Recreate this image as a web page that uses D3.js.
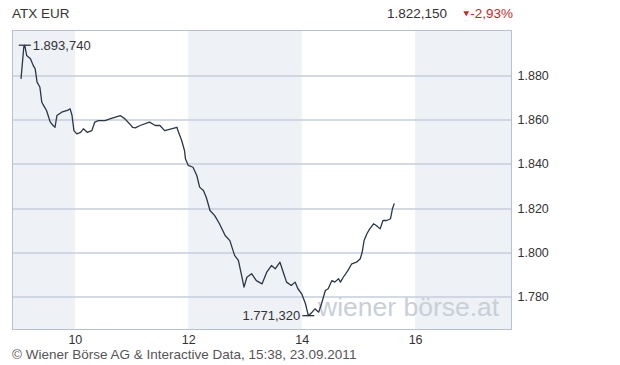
<!DOCTYPE html>
<html>
<head>
<meta charset="utf-8">
<script src="https://cdn.jsdelivr.net/npm/d3@7"></script>
<style>
  body { margin: 0; background: #fff; }
  svg text { font-family: "Liberation Sans", Arial, sans-serif; }
</style>
</head>
<body>
<div id="wrapper"></div>
<script>
// ATX intraday, 23.09.2011
const times = ["09:03","09:06","09:07","09:09","09:13","09:16","09:18","09:20","09:22","09:23",
  "09:25","09:27","09:30","09:34","09:37","09:39","09:41","09:46","09:52","09:55",
  "09:57","09:59","10:02","10:06","10:09","10:13","10:18","10:21","10:25","10:32",
  "10:37","10:48","10:53","10:58","11:01","11:04","11:09","11:19","11:25","11:30",
  "11:35","11:42","11:48","11:49","11:53","11:56","11:57","12:00","12:05","12:09",
  "12:12","12:16","12:19","12:23","12:28","12:33","12:39","12:44","12:49","12:53",
  "12:56","12:59","13:02","13:07","13:12","13:18","13:23","13:28","13:32","13:37",
  "13:41","13:44","13:49","13:53","13:56","14:00","14:04","14:07","14:11","14:14",
  "14:18","14:21","14:25","14:28","14:32","14:35","14:39","14:41","14:44","14:49",
  "14:53","14:58","15:02","15:04","15:06","15:09","15:12","15:16","15:19","15:23",
  "15:26","15:30","15:34","15:36","15:38"];
const prices = [1878.5,1893.1,1893.74,1889.05,1887.6,1884.5,1883.0,1877.0,1875.5,1874.7,
  1867.9,1866.4,1864.2,1858.9,1857.4,1856.6,1861.9,1863.4,1864.2,1864.9,
  1861.9,1855.1,1853.6,1854.3,1855.9,1854.3,1855.1,1858.9,1859.6,1859.6,
  1860.4,1861.9,1860.4,1858.1,1856.6,1856.3,1857.4,1858.9,1857.4,1857.4,
  1855.1,1855.9,1856.6,1855.1,1850.6,1846.1,1842.3,1839.3,1838.5,1834.75,
  1829.5,1828.0,1824.9,1818.9,1816.6,1812.9,1807.6,1805.3,1798.6,1796.3,
  1790.3,1784.2,1788.7,1790.3,1787.2,1785.7,1791.0,1794.0,1792.5,1795.5,
  1790.3,1786.5,1785.0,1786.5,1783.5,1781.2,1776.7,1771.32,1772.9,1774.4,
  1772.9,1776.7,1782.7,1783.5,1787.2,1786.5,1788.0,1786.5,1788.7,1791.8,
  1794.8,1795.5,1797.1,1800.0,1805.3,1808.4,1810.6,1812.9,1812.1,1810.6,
  1814.4,1814.4,1815.2,1819.7,1822.15];

const timeDomain = ["08:54", "17:42"];
const priceDomain = [1765.05, 1900.4];
const xTicks = ["10:00", "12:00", "14:00", "16:00"];
const yTicks = [1780, 1800, 1820, 1840, 1860, 1880];
const shadedHours = [["08:54", "10:00"], ["12:00", "14:00"], ["16:00", "17:42"]];

const title = "ATX EUR";
const lastPrice = "1.822,150";
const change = "-2,93%";
const footer = "© Wiener Börse AG & Interactive Data, 15:38, 23.09.2011";
const watermark = "wiener börse.at";

function draw() {
  const parseTime = d3.timeParse("%H:%M");
  const dataset = times.map((t, i) => ({ time: parseTime(t), price: prices[i] }));
  const xAccessor = d => d.time;
  const yAccessor = d => d.price;

  // german number format: 1.880 / 1.893,740
  const de = d3.formatLocale({ decimal: ",", thousands: ".", grouping: [3], currency: ["", "€"] });
  const fmtTick = de.format(",.0f");
  const fmtPrice = de.format(",.3f");

  const dimensions = {
    width: 620,
    height: 365,
    margin: { top: 30.5, right: 108.5, bottom: 35.5, left: 12.5 },
  };
  dimensions.boundedWidth = dimensions.width - dimensions.margin.left - dimensions.margin.right;
  dimensions.boundedHeight = dimensions.height - dimensions.margin.top - dimensions.margin.bottom;

  const wrapper = d3.select('#wrapper')
    .append('svg')
    .attr('width', dimensions.width)
    .attr('height', dimensions.height);

  const bounds = wrapper.append('g')
    .attr('transform', `translate(${dimensions.margin.left}, ${dimensions.margin.top})`);

  const xScale = d3.scaleTime()
    .domain(timeDomain.map(parseTime))
    .range([0, dimensions.boundedWidth]);

  const yScale = d3.scaleLinear()
    .domain(priceDomain)
    .range([dimensions.boundedHeight, 0]);

  // alternating hour bands
  bounds.selectAll('.band')
    .data(shadedHours)
    .join('rect')
    .attr('class', 'band')
    .attr('x', d => xScale(parseTime(d[0])))
    .attr('width', d => xScale(parseTime(d[1])) - xScale(parseTime(d[0])))
    .attr('y', 0)
    .attr('height', dimensions.boundedHeight)
    .attr('fill', '#eef1f5');

  // grid
  bounds.selectAll('.grid')
    .data(yTicks)
    .join('line')
    .attr('class', 'grid')
    .attr('x1', 0)
    .attr('x2', dimensions.boundedWidth)
    .attr('y1', d => Math.round(yScale(d)) + 0.5)
    .attr('y2', d => Math.round(yScale(d)) + 0.5)
    .attr('stroke', '#c6cedb')
    .attr('stroke-width', 1.5);

  // watermark, bottom right of the plot
  bounds.append('text')
    .attr('x', xScale(parseTime("17:29")))
    .attr('y', yScale(1771.3))
    .attr('text-anchor', 'end')
    .attr('font-size', 26.5)
    .attr('fill', '#c9cfd8')
    .text(watermark);

  const lineGenerator = d3.line()
    .x(d => xScale(xAccessor(d)))
    .y(d => yScale(yAccessor(d)));

  bounds.append('path')
    .attr('d', lineGenerator(dataset))
    .attr('fill', 'none')
    .attr('stroke', '#2b3748')
    .attr('stroke-width', 1.3)
    .attr('stroke-linejoin', 'round');

  // max / min markers
  const maxPoint = dataset[d3.maxIndex(dataset, yAccessor)];
  const minPoint = dataset[d3.minIndex(dataset, yAccessor)];
  const markers = [
    { d: maxPoint, anchor: 'start', dx: 8 },
    { d: minPoint, anchor: 'end', dx: -8 },
  ];
  markers.forEach(m => {
    const mx = xScale(xAccessor(m.d));
    const my = yScale(yAccessor(m.d));
    bounds.append('line')
      .attr('x1', mx - 6).attr('x2', mx + 6)
      .attr('y1', my).attr('y2', my)
      .attr('stroke', '#2b3748')
      .attr('stroke-width', 1.3);
    bounds.append('text')
      .attr('x', mx + m.dx)
      .attr('y', my)
      .attr('dy', '0.35em')
      .attr('text-anchor', m.anchor)
      .attr('font-size', 13)
      .attr('fill', '#333')
      .text(fmtPrice(yAccessor(m.d)));
  });

  // frame
  bounds.append('rect')
    .attr('width', dimensions.boundedWidth)
    .attr('height', dimensions.boundedHeight)
    .attr('fill', 'none')
    .attr('stroke', '#b7c1ce');

  const yAxisGenerator = d3.axisRight(yScale)
    .tickValues(yTicks)
    .tickSize(0)
    .tickPadding(6)
    .tickFormat(fmtTick);
  const yAxis = bounds.append('g')
    .attr('transform', `translate(${dimensions.boundedWidth}, 0)`)
    .call(yAxisGenerator);

  const xAxisGenerator = d3.axisBottom(xScale)
    .tickValues(xTicks.map(parseTime))
    .tickSize(0)
    .tickPadding(6)
    .tickFormat(d3.timeFormat("%-H"));
  const xAxis = bounds.append('g')
    .attr('transform', `translate(0, ${dimensions.boundedHeight})`)
    .call(xAxisGenerator);

  [xAxis, yAxis].forEach(ax => {
    ax.select('.domain').remove();
    ax.selectAll('text')
      .attr('font-size', 12.5)
      .attr('fill', '#333')
      .style('font-family', '"Liberation Sans", Arial, sans-serif');
  });

  // header
  wrapper.append('text')
    .attr('x', 12)
    .attr('y', 18)
    .attr('font-size', 13.5)
    .attr('fill', '#333')
    .text(title);
  wrapper.append('text')
    .attr('x', 447)
    .attr('y', 18)
    .attr('text-anchor', 'end')
    .attr('font-size', 13.5)
    .attr('fill', '#333')
    .text(lastPrice);
  const changeText = wrapper.append('text')
    .attr('x', 513)
    .attr('y', 18)
    .attr('text-anchor', 'end')
    .attr('font-size', 13.5)
    .attr('fill', '#cc1f1f')
    .text(change);
  const cb = changeText.node().getBBox();
  wrapper.append('path')
    .attr('d', d3.symbol(d3.symbolTriangle, 14)())
    .attr('transform', `translate(${cb.x - 4}, 13) rotate(180)`)
    .attr('fill', '#cc1f1f');

  // footer
  wrapper.append('text')
    .attr('x', 12)
    .attr('y', 359)
    .attr('font-size', 13.5)
    .attr('fill', '#555')
    .text(footer);
}

draw();
</script>
</body>
</html>
